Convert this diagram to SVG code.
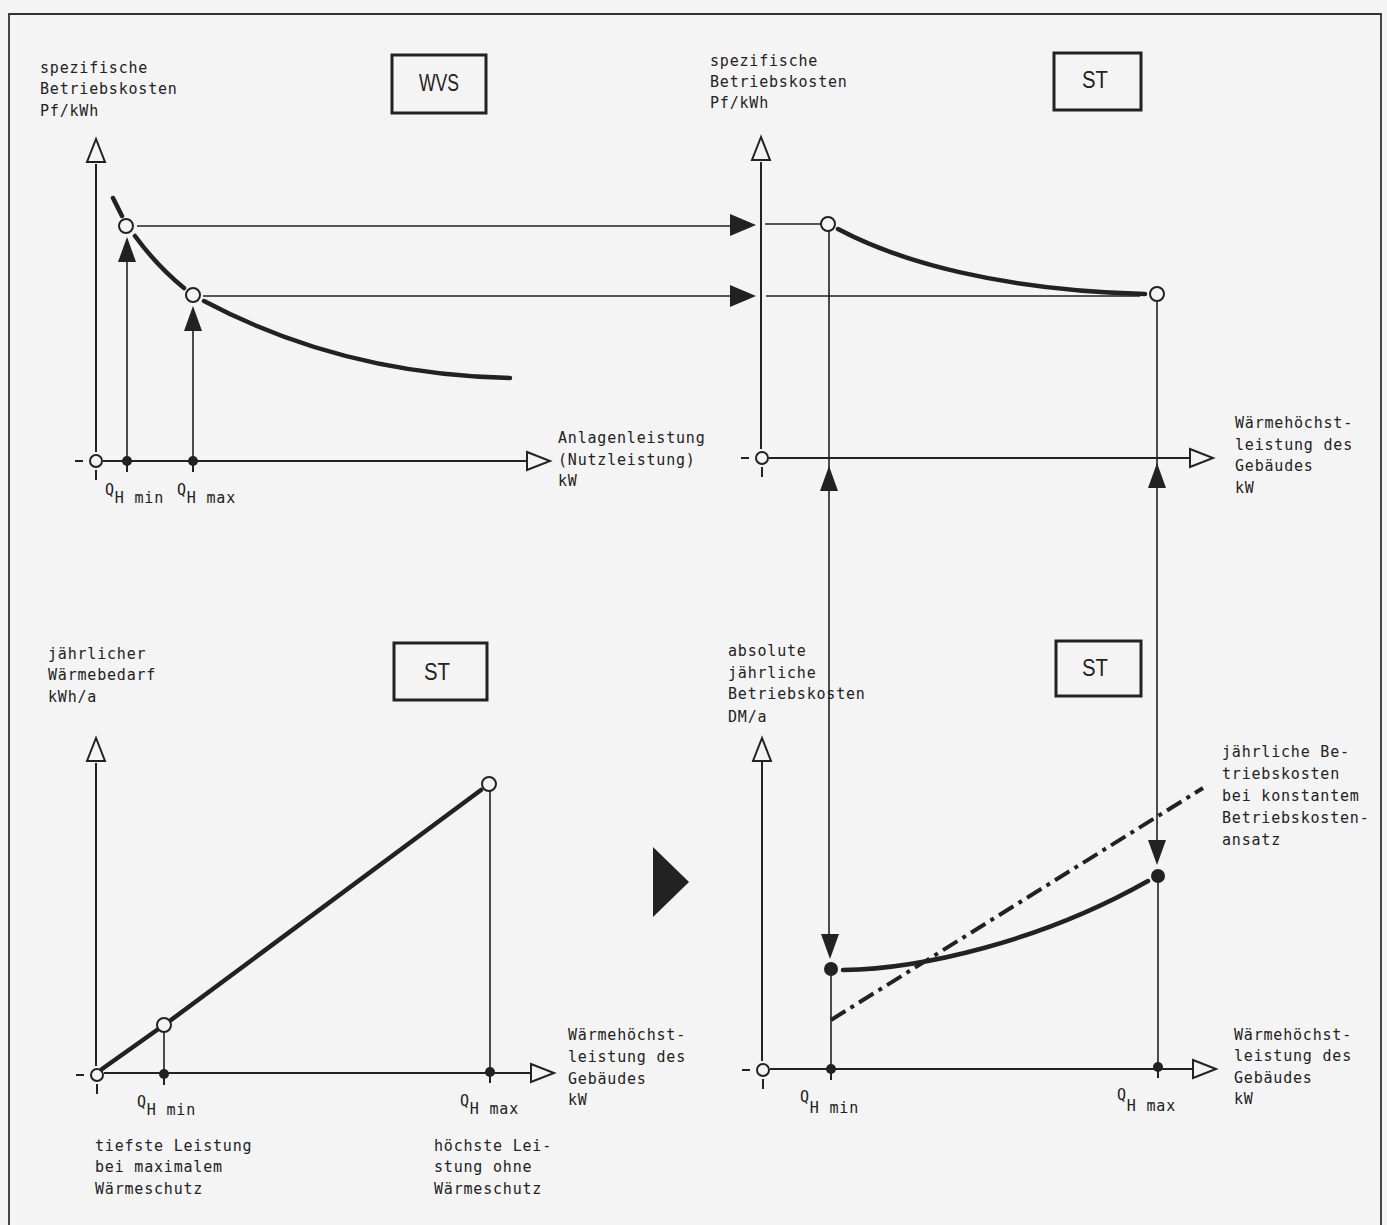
<svg xmlns="http://www.w3.org/2000/svg" xmlns:xlink="http://www.w3.org/1999/xlink" width="1387" height="1225" viewBox="0 0 1387 1225">
<style>
.t{font-family:"DejaVu Sans Mono","Liberation Mono",monospace;font-size:15px;letter-spacing:0.8px;fill:#222}
.bl{font-family:"Liberation Sans","DejaVu Sans",sans-serif;font-size:23px;fill:#222;text-anchor:middle}
.box{fill:none;stroke:#222;stroke-width:3}
.ax{stroke:#222;stroke-width:2;fill:none}
.thin{stroke:#222;stroke-width:1.6;fill:none}
.crv{stroke:#222;stroke-width:4.5;fill:none;stroke-linecap:round}
.dd{stroke:#222;stroke-width:4;fill:none;stroke-dasharray:17 6 4 6}
.open{fill:#f4f4f4;stroke:#222;stroke-width:2}
.fl{fill:#222}
</style>
<defs>
<g id="origin"><path class="ax" d="M-21,0H-13M0,9V19"/><circle class="open" r="6"/></g>
<g id="dot"><path class="ax" d="M0,0V11"/><circle class="fl" r="5"/></g>
<path id="upOpen" class="open" d="M0,0L-9,23L9,23Z"/>
<path id="rightOpen" class="open" d="M0,-9L23,0L0,9Z"/>
<path id="upFill" class="fl" d="M0,0L-9,25L9,25Z"/>
<path id="downFill" class="fl" d="M0,0L-9,-25L9,-25Z"/>
<path id="rightFill" class="fl" d="M0,0L-26,-11L-26,11Z"/>
</defs>
<rect width="1387" height="1225" fill="#f4f4f4"/>
<g id="frame"><path d="M9,1230V14H1381V1230" fill="none" stroke="#333" stroke-width="1.8"/></g>

<g id="connectors">
<path class="thin" d="M137,226H732M765,224H821"/>
<path class="thin" d="M203,296H732M766,296H1140"/>
<use xlink:href="#rightFill" x="756" y="225"/>
<use xlink:href="#rightFill" x="756" y="296"/>
<path class="thin" d="M829,231V935M1157,301V842"/>
<use xlink:href="#upFill" x="829" y="466"/>
<use xlink:href="#upFill" x="1157" y="463"/>
<use xlink:href="#downFill" x="830" y="959"/>
<use xlink:href="#downFill" x="1157" y="865"/>
<use xlink:href="#upFill" x="127" y="237"/>
<use xlink:href="#upFill" x="193" y="306"/>
<path class="thin" d="M127,262V461M193,331V461"/>
</g>

<g id="panel-wvs">
<text class="t" x="40" y="73">spezifische</text>
<text class="t" x="40" y="94">Betriebskosten</text>
<text class="t" x="40" y="116">Pf/kWh</text>
<g id="box-wvs"><rect class="box" x="392" y="55" width="94" height="58"/><text class="bl" x="439" y="91" textLength="40" lengthAdjust="spacingAndGlyphs">WVS</text></g>
<path class="ax" d="M96,164V452M103,461H527"/>
<use xlink:href="#upOpen" x="96" y="139"/>
<use xlink:href="#rightOpen" x="527" y="461"/>
<use xlink:href="#origin" x="96" y="461"/>
<use xlink:href="#dot" x="127" y="461"/>
<use xlink:href="#dot" x="193" y="461"/>
<path class="crv" d="M113,198L122,216M135,236Q157,266 184,288M204,301C270,336 370,375 510,378"/>
<circle class="open" cx="126" cy="226" r="7"/>
<circle class="open" cx="193" cy="295" r="7"/>
<text class="t" x="105" y="495">Q<tspan dy="8">H min</tspan></text>
<text class="t" x="177" y="495">Q<tspan dy="8">H max</tspan></text>
<text class="t" x="558" y="443">Anlagenleistung</text>
<text class="t" x="558" y="465">(Nutzleistung)</text>
<text class="t" x="558" y="486">kW</text>
</g>

<g id="panel-st-top">
<text class="t" x="710" y="66">spezifische</text>
<text class="t" x="710" y="87">Betriebskosten</text>
<text class="t" x="710" y="108">Pf/kWh</text>
<g id="box-st1"><rect class="box" x="1054" y="53" width="87" height="57"/><text class="bl" x="1095" y="88" textLength="26" lengthAdjust="spacingAndGlyphs">ST</text></g>
<path class="ax" d="M761,162V449M769,458H1190"/>
<use xlink:href="#upOpen" x="761" y="137"/>
<use xlink:href="#rightOpen" x="1190" y="458"/>
<use xlink:href="#origin" x="762" y="458"/>
<path class="crv" d="M838,229C900,262 1000,290 1145,294"/>
<circle class="open" cx="828" cy="224" r="7"/>
<circle class="open" cx="1157" cy="294" r="7"/>
<text class="t" x="1235" y="428">Wärmehöchst-</text>
<text class="t" x="1235" y="450">leistung des</text>
<text class="t" x="1235" y="471">Gebäudes</text>
<text class="t" x="1235" y="493">kW</text>
</g>

<g id="panel-st-left">
<text class="t" x="48" y="659">jährlicher</text>
<text class="t" x="48" y="680">Wärmebedarf</text>
<text class="t" x="48" y="702">kWh/a</text>
<g id="box-st2"><rect class="box" x="394" y="643" width="93" height="57"/><text class="bl" x="437" y="680" textLength="26" lengthAdjust="spacingAndGlyphs">ST</text></g>
<path class="ax" d="M96,763V1066M104,1073H530"/>
<use xlink:href="#upOpen" x="96" y="738"/>
<use xlink:href="#rightOpen" x="531" y="1073"/>
<use xlink:href="#origin" x="97" y="1075"/>
<path class="thin" d="M164,1032V1074M490,791V1072"/>
<use xlink:href="#dot" x="164" y="1074"/>
<use xlink:href="#dot" x="490" y="1072"/>
<path class="crv" d="M102,1069L157,1030M171,1020L481,790"/>
<circle class="open" cx="164" cy="1025" r="7"/>
<circle class="open" cx="489" cy="784" r="7"/>
<text class="t" x="137" y="1107">Q<tspan dy="8">H min</tspan></text>
<text class="t" x="460" y="1106">Q<tspan dy="8">H max</tspan></text>
<text class="t" x="95" y="1151">tiefste Leistung</text>
<text class="t" x="95" y="1172">bei maximalem</text>
<text class="t" x="95" y="1194">Wärmeschutz</text>
<text class="t" x="434" y="1151">höchste Lei-</text>
<text class="t" x="434" y="1172">stung ohne</text>
<text class="t" x="434" y="1194">Wärmeschutz</text>
<text class="t" x="568" y="1040">Wärmehöchst-</text>
<text class="t" x="568" y="1062">leistung des</text>
<text class="t" x="568" y="1084">Gebäudes</text>
<text class="t" x="568" y="1105">kW</text>
</g>

<g id="transition-arrow"><path class="fl" d="M653,847L689,882L653,917Z"/></g>

<g id="panel-st-right">
<text class="t" x="728" y="656">absolute</text>
<text class="t" x="728" y="678">jährliche</text>
<text class="t" x="728" y="699">Betriebskosten</text>
<text class="t" x="728" y="722">DM/a</text>
<g id="box-st3"><rect class="box" x="1056" y="641" width="85" height="55"/><text class="bl" x="1095" y="676" textLength="26" lengthAdjust="spacingAndGlyphs">ST</text></g>
<path class="ax" d="M762,762V1061M770,1069H1192"/>
<use xlink:href="#upOpen" x="762" y="738"/>
<use xlink:href="#rightOpen" x="1193" y="1069"/>
<use xlink:href="#origin" x="763" y="1070"/>
<path class="thin" d="M831,969V1069M1158,876V1067"/>
<use xlink:href="#dot" x="831" y="1069"/>
<use xlink:href="#dot" x="1158" y="1067"/>
<path class="dd" d="M831,1020L1203,788"/>
<path class="crv" d="M843,970C920,969 1040,942 1148,881"/>
<circle class="fl" cx="831" cy="969" r="7"/>
<circle class="fl" cx="1158" cy="876" r="7"/>
<text class="t" x="800" y="1102">Q<tspan dy="11">H min</tspan></text>
<text class="t" x="1117" y="1100">Q<tspan dy="11">H max</tspan></text>
<text class="t" x="1222" y="757">jährliche Be-</text>
<text class="t" x="1222" y="779">triebskosten</text>
<text class="t" x="1222" y="801">bei konstantem</text>
<text class="t" x="1222" y="823">Betriebskosten-</text>
<text class="t" x="1222" y="845">ansatz</text>
<text class="t" x="1234" y="1040">Wärmehöchst-</text>
<text class="t" x="1234" y="1061">leistung des</text>
<text class="t" x="1234" y="1083">Gebäudes</text>
<text class="t" x="1234" y="1104">kW</text>
</g>
</svg>
